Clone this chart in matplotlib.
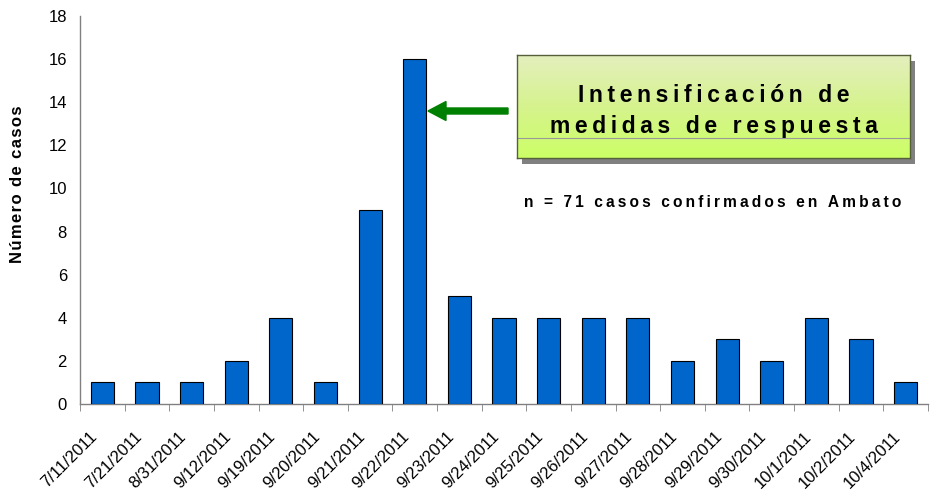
import matplotlib
matplotlib.use("Agg")
import matplotlib.pyplot as plt
import matplotlib.transforms as mtransforms
import numpy as np
from matplotlib.patches import Rectangle, FancyArrow
from matplotlib.colors import LinearSegmentedColormap

plt.rcParams['font.family'] = ['Liberation Sans', 'DejaVu Sans']

dates = ["7/11/2011", "7/21/2011", "8/31/2011", "9/12/2011", "9/19/2011", "9/20/2011",
         "9/21/2011", "9/22/2011", "9/23/2011", "9/24/2011", "9/25/2011", "9/26/2011",
         "9/27/2011", "9/28/2011", "9/29/2011", "9/30/2011", "10/1/2011", "10/2/2011",
         "10/4/2011"]
cases = [1, 1, 1, 2, 4, 1, 9, 16, 5, 4, 4, 4, 4, 2, 3, 2, 4, 3, 1]
y_ticks = [0, 2, 4, 6, 8, 10, 12, 14, 16, 18]
box_line1 = "Intensificación de"
box_line2 = "medidas de respuesta"
note = "n = 71 casos confirmados en Ambato"
ylabel = "Número de casos"

W, H = 933, 495
fig = plt.figure(figsize=(W / 100, H / 100), dpi=100)


def fx(px):
    return px / W


def fy(py):
    return 1 - py / H


def spaced(s, sep):
    return sep.join(list(s))


ax = fig.add_axes([fx(80), fy(404), fx(928) - fx(80), fy(16) - fy(404)])
x = np.arange(len(cases))
ax.bar(x, cases, width=0.52, color="#0066CC", edgecolor="black", linewidth=0.8, zorder=3)
ax.set_xlim(-0.5, len(cases) - 0.5)
ax.set_ylim(0, 18)
ax.set_yticks(y_ticks)
ax.set_yticklabels([str(v) for v in y_ticks], fontsize=12)
ax.tick_params(axis='y', length=0, pad=9.4)
ax.set_xticks(x)
ax.set_xticklabels(dates, rotation=45, ha='right', va='top', rotation_mode='anchor', fontsize=12)
ax.tick_params(axis='x', which='major', length=0, pad=18)
offset = mtransforms.ScaledTranslation(-13 / 100, 0, fig.dpi_scale_trans)
for lab in ax.get_xticklabels():
    lab.set_transform(lab.get_transform() + offset)
ax.set_xticks(np.arange(-0.5, len(cases), 1.0), minor=True)
ax.tick_params(axis='x', which='minor', length=5, direction='out', color='#808080')
for s in ['top', 'right']:
    ax.spines[s].set_visible(False)
for s in ['left', 'bottom']:
    ax.spines[s].set_color('#808080')
    ax.spines[s].set_linewidth(1.0)
ax.set_ylabel(spaced(ylabel, "\u200a"), fontsize=12, fontweight='bold', va='center')
ax.yaxis.set_label_coords((18 - 80) / 848, (404 - 184) / 388)

# Box with shadow and gradient
bx0, bx1, by0, by1 = 517, 910, 55, 158
fig.patches.append(Rectangle((fx(bx0 + 5), fy(by1 + 6)), fx(bx1 - bx0), fy(by0) - fy(by1),
                             transform=fig.transFigure, facecolor="#808080", edgecolor='none', zorder=1))
gax = fig.add_axes([fx(bx0), fy(by1), fx(bx1) - fx(bx0), fy(by0) - fy(by1)], zorder=2)
cmap = LinearSegmentedColormap.from_list("g", ["#E4EFBE", "#D6F38E", "#CCFF66"])
grad = np.linspace(0, 1, 256).reshape(-1, 1)
gax.imshow(grad, aspect='auto', cmap=cmap, extent=[0, 1, 0, 1], origin='upper')
gax.set_xlim(0, 1)
gax.set_ylim(0, 1)
gax.set_xticks([])
gax.set_yticks([])
for s in gax.spines.values():
    s.set_color("#55603A")
    s.set_linewidth(1.0)
line_y = (by1 - 138) / (by1 - by0)
gax.plot([0, 1], [line_y, line_y], color="#9A9A9A", linewidth=0.8)

fig.text(fx(714), fy(102), spaced(box_line1, "\u2009"), ha='center', va='baseline',
         fontsize=16.5, fontweight='bold', zorder=10)
fig.text(fx(714), fy(133), spaced(box_line2, "\u2009"), ha='center', va='baseline',
         fontsize=16.5, fontweight='bold', zorder=10)

# Arrow
arr = FancyArrow(fx(508), fy(111), fx(428) - fx(508), 0, width=6 / H, head_width=19 / H,
                 head_length=18 / W, length_includes_head=True, transform=fig.transFigure,
                 color="#008000", zorder=5)
fig.patches.append(arr)

fig.text(fx(713), fy(207), spaced(note, "\u2009"), ha='center', va='baseline',
         fontsize=11.2, fontweight='bold')

fig.savefig("out.png", dpi=100)
